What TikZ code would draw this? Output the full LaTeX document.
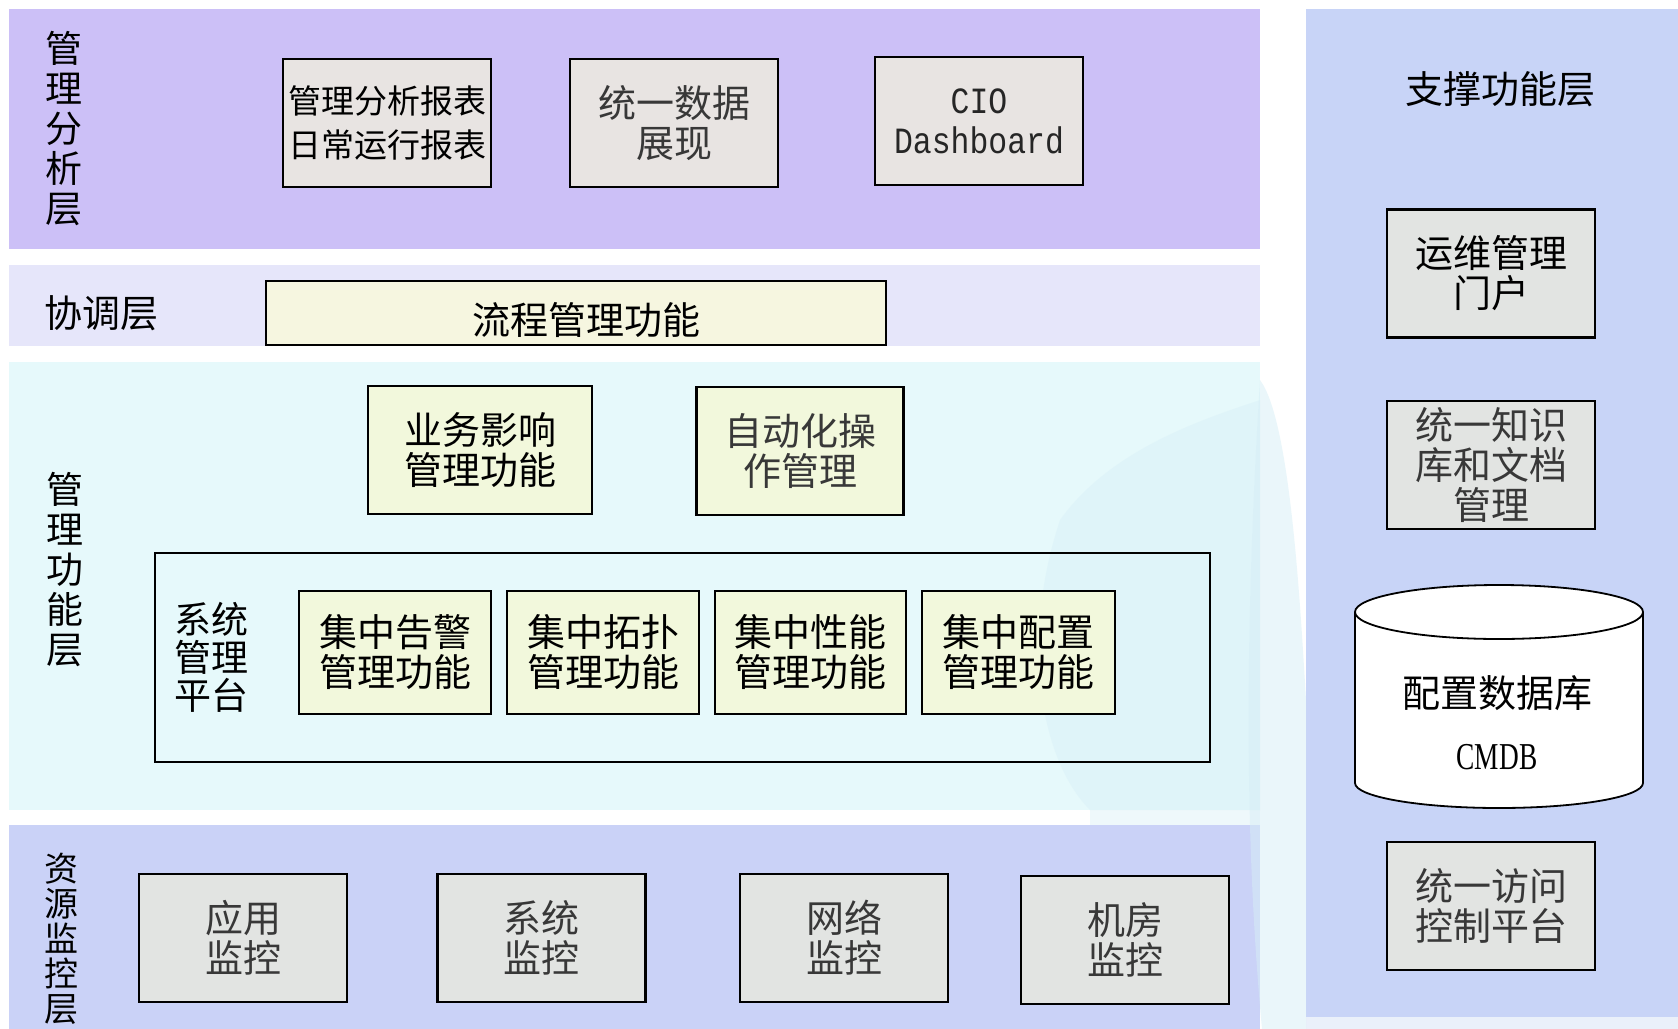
\documentclass[tikz,border=0pt]{standalone}
\usepackage{fontspec}
\setmainfont{Liberation Serif}
\newfontfamily\cjk{Noto Sans CJK SC}
\newfontfamily\monof[FakeStretch=0.85]{Liberation Mono}
\newfontfamily\condf[FakeStretch=0.72]{Liberation Serif}
\definecolor{bandA}{RGB}{204,192,247}
\definecolor{bandB}{RGB}{230,230,250}
\definecolor{bandC}{RGB}{230,249,251}
\definecolor{bandD}{RGB}{202,210,247}
\definecolor{bandR}{RGB}{200,212,247}
\definecolor{boxA}{RGB}{232,228,226}
\definecolor{boxB}{RGB}{246,246,224}
\definecolor{boxC}{RGB}{242,248,220}
\definecolor{boxD}{RGB}{226,228,226}
\definecolor{wm}{RGB}{214,238,246}
\definecolor{strip}{RGB}{234,240,250}
\begin{document}
\begin{tikzpicture}[x=0.5pt,y=-0.5pt,
  cj/.style={font=\cjk\fontsize{19pt}{20pt}\selectfont, align=center, inner sep=0pt},
  cjs/.style={font=\cjk\fontsize{16.5pt}{22pt}\selectfont, align=center, inner sep=0pt},
  vlab/.style={font=\cjk\fontsize{18.5pt}{20pt}\selectfont, align=center, inner sep=0pt},
  box/.style={draw=black, line width=1.3pt, inner sep=0pt},
  wbox/.style={box, minimum width=104pt, minimum height=64pt},
  gtxt/.style={text=black!78},
]
\useasboundingbox (0,0) rectangle (1678,1029);
\fill[white] (0,0) rectangle (1678,1029);

% layer bands
\fill[bandA] (9,9) rectangle (1260,249);
\fill[bandB] (9,265) rectangle (1260,346);
\fill[bandC] (9,362) rectangle (1260,810);
\fill[bandD] (9,825) rectangle (1260,1029);
\fill[bandR] (1306,9) rectangle (1678,1017);
\fill[strip] (1306,1017) rectangle (1678,1029);

% faint watermark
\fill[wm, opacity=0.4] (1060,520) .. controls (1110,450) and (1200,420) .. (1260,400)
  -- (1260,810) -- (1090,810) .. controls (1040,760) and (1020,640) .. (1060,520) -- cycle;
\fill[wm, opacity=0.5] (1260,380) .. controls (1290,420) and (1300,600) .. (1306,700)
  -- (1306,1029) -- (1262,1029) .. controls (1250,900) and (1240,700) .. (1260,380) -- cycle;
\fill[wm, opacity=0.4] (1090,810) rectangle (1260,825);

% layer labels
\node[vlab] (lab1) at (64,129) {管\\理\\分\\析\\层};
\node[cj] (lab2) at (102,313) {协调层};
\node[vlab] (lab3) at (65,570) {管\\理\\功\\能\\层};
\node[vlab, font=\cjk\fontsize{17pt}{17.5pt}\selectfont] (lab4) at (62,939) {资\\源\\监\\控\\层};
\node[cj] (lab5) at (1500,89) {支撑功能层};

% management analysis layer
\node[wbox, fill=boxA, cjs] (rpt) at (387,123) {管理分析报表\\日常运行报表};
\node[wbox, fill=boxA, cj, gtxt] (show) at (674,123) {统一数据\\展现};
\node[wbox, fill=boxA, align=center, font=\monof\fontsize{18.5pt}{20pt}\selectfont, text=black!85] (cio) at (979,121) {CIO\\Dashboard};

% coordination layer
\node[box, fill=boxB, minimum width=310pt, minimum height=32pt] (flow) at (576,313) {};
\node[cj] (flowtxt) at (586,320) {流程管理功能};

% management function layer
\node[box, fill=boxC, cj, minimum width=112pt, minimum height=64pt] (biz) at (480,450) {业务影响\\管理功能};
\node[box, fill=boxC, cj, gtxt, minimum width=103.5pt, minimum height=64pt] (auto) at (800,451) {自动化操\\作管理};
\node[draw=black, line width=1.1pt, minimum width=527.5pt, minimum height=104.5pt] (sys) at (682.5,657.5) {};
\node[cj, font=\cjk\fontsize{18.5pt}{19pt}\selectfont] (systxt) at (211,657.5) {系统\\管理\\平台};
\node[box, fill=boxC, cj, minimum width=96pt, minimum height=61.5pt] (alarm) at (395,652.5) {集中告警\\管理功能};
\node[box, fill=boxC, cj, minimum width=96pt, minimum height=61.5pt] (topo) at (603,652.5) {集中拓扑\\管理功能};
\node[box, fill=boxC, cj, minimum width=95.5pt, minimum height=61.5pt] (perf) at (810.5,652.5) {集中性能\\管理功能};
\node[box, fill=boxC, cj, minimum width=96.5pt, minimum height=61.5pt] (conf) at (1018.5,652.5) {集中配置\\管理功能};

% resource monitoring layer
\node[wbox, fill=boxD, cj, gtxt] (app) at (243,938) {应用\\监控};
\node[wbox, fill=boxD, cj, gtxt] (sysm) at (541.5,938) {系统\\监控};
\node[wbox, fill=boxD, cj, gtxt] (net) at (844,938) {网络\\监控};
\node[wbox, fill=boxD, cj, gtxt] (room) at (1125,940) {机房\\监控};

% support layer
\node[wbox, fill=boxD, cj] (portal) at (1491,273.5) {运维管理\\门户};
\node[wbox, fill=boxD, cj, gtxt] (kb) at (1491,465) {统一知识\\库和文档\\管理};
\fill[white] (1355,612) -- (1355,783) arc[start angle=180, end angle=360, x radius=72pt, y radius=12.5pt] -- (1643,612) -- cycle;
\draw[line width=0.9pt] (1355,612) -- (1355,783) arc[start angle=180, end angle=360, x radius=72pt, y radius=12.5pt] -- (1643,612);
\draw[line width=0.9pt, fill=white] (1499,612) ellipse[x radius=72pt, y radius=13.5pt];
\node[cj] (cmdb1) at (1497,693) {配置数据库};
\node[font=\condf\fontsize{19pt}{20pt}\selectfont, inner sep=0pt] (cmdb2) at (1497,757) {CMDB};
\node[wbox, fill=boxD, cj, gtxt] (acc) at (1491,906) {统一访问\\控制平台};
\end{tikzpicture}
\end{document}
